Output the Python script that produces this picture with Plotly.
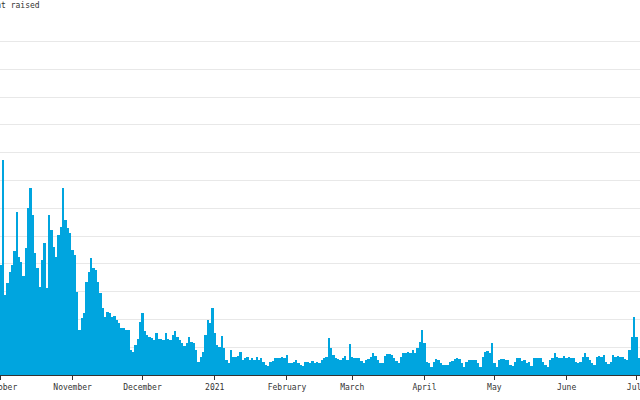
import pandas as pd
import plotly.graph_objects as go

# Daily amount raised (thousands of dollars)
oct_2020 = [39.6, 77.3, 28.8, 33.1, 37.0, 39.6, 44.6, 58.6, 42.4, 40.6, 35.6, 45.7, 60.1, 67.3, 57.6,
            43.9, 38.5, 31.7, 41.4, 47.5, 31.3, 57.6, 52.2, 46.0, 42.4, 50.4, 53.2, 67.3, 55.8, 52.9, 51.1]
nov_2020 = [45.0, 43.2, 29.9, 16.2, 20.5, 22.3, 33.5, 37.0, 42.1, 38.5, 37.8, 33.5, 29.5, 24.1, 20.9,
            22.7, 22.3, 20.9, 21.2, 19.8, 18.7, 16.9, 16.9, 16.2, 16.2, 9.0, 8.3, 10.8, 12.9, 19.1]
dec_2020 = [22.3, 15.8, 14.4, 13.7, 13.3, 12.6, 15.1, 12.9, 12.9, 12.6, 15.1, 12.9, 12.6, 14.4, 15.8,
            13.7, 12.6, 11.5, 10.4, 11.5, 13.7, 11.9, 11.5, 9.0, 4.7, 6.5, 8.3, 14.4, 19.8, 18.7, 24.1]
jan_2021 = [15.1, 10.8, 10.1, 14.0, 9.7, 5.4, 4.3, 9.0, 6.5, 6.5, 6.8, 8.3, 5.4, 6.1, 6.5,
            5.4, 6.1, 5.4, 6.5, 5.4, 6.1, 4.7, 3.6, 3.2, 4.7, 5.0, 6.1, 6.1, 6.1, 6.5, 6.1]
feb_2021 = [7.2, 4.3, 4.3, 4.7, 5.4, 4.3, 3.6, 3.2, 4.7, 4.7, 4.3, 5.0, 4.3, 4.7,
            4.3, 5.4, 6.1, 6.5, 13.3, 9.7, 7.2, 6.1, 5.8, 5.4, 6.1, 6.8, 5.4, 11.2]
mar_2021 = [6.5, 6.1, 6.1, 6.1, 5.0, 4.3, 5.4, 5.8, 6.5, 7.9, 6.8, 5.4, 4.3, 4.3, 6.8,
            7.6, 7.6, 7.2, 6.1, 5.0, 4.3, 6.5, 7.9, 7.9, 8.3, 7.9, 9.0, 7.9, 9.7, 11.9, 16.2]
apr_2021 = [11.5, 4.7, 4.3, 2.9, 4.7, 5.8, 5.4, 4.3, 3.6, 3.6, 3.6, 4.7, 5.0, 5.8, 6.1,
            5.8, 4.3, 2.9, 4.7, 5.4, 5.4, 5.4, 5.4, 4.3, 2.9, 6.5, 8.3, 8.6, 7.9, 11.5]
may_2021 = [4.3, 2.9, 5.4, 5.8, 5.8, 5.4, 5.4, 3.6, 3.2, 4.7, 6.1, 6.1, 5.0, 5.4, 4.3,
            4.7, 3.2, 6.1, 6.1, 6.1, 6.1, 4.7, 3.6, 2.9, 5.4, 6.1, 7.9, 6.5, 6.1, 6.1, 6.8]
jun_2021 = [6.1, 6.5, 6.1, 6.1, 4.7, 4.3, 4.7, 6.5, 7.9, 6.5, 5.4, 4.3, 3.6, 6.5, 6.8,
            6.5, 7.2, 4.7, 4.0, 4.7, 7.2, 6.5, 6.8, 6.5, 6.5, 5.8, 5.4, 9.0, 13.7, 20.9]
jul_2021 = [13.7, 6.1, 4.3]

tick_dates = ["2020-10-01", "2020-11-01", "2020-12-01", "2021-01-01", "2021-02-01",
              "2021-03-01", "2021-04-01", "2021-05-01", "2021-06-01", "2021-07-01"]
tick_labels = ["October", "November", "December", "2021", "February",
               "March", "April", "May", "June", "July"]

amounts = (oct_2020 + nov_2020 + dec_2020 + jan_2021 + feb_2021 + mar_2021
           + apr_2021 + may_2021 + jun_2021 + jul_2021)
dates = pd.date_range("2020-10-01", periods=len(amounts), freq="D")

fig = go.Figure(go.Bar(
    x=dates, y=amounts,
    width=86400000,
    marker=dict(color="#00a5df", line=dict(width=0)),
))

mono = "DejaVu Sans Mono"
fig.update_layout(
    width=640, height=400,
    margin=dict(l=0, r=0, t=20, b=25),
    paper_bgcolor="white", plot_bgcolor="white",
    bargap=0, showlegend=False,
    font=dict(family=mono, size=8, color="#333"),
    annotations=[dict(
        text="Amount raised", xref="paper", yref="paper", x=0, y=1,
        xanchor="left", yanchor="middle", xshift=-25.5, yshift=14.5,
        showarrow=False, font=dict(family=mono, size=8, color="#333"),
    )],
)
fig.update_xaxes(
    type="date", range=["2020-09-30 20:24", "2021-07-02 12:14"],
    tickvals=tick_dates, ticktext=tick_labels,
    ticks="outside", ticklen=4, tickcolor="#333", tickwidth=1,
    showline=True, linecolor="#333", linewidth=1,
    showgrid=False, automargin=False, ticklabeloverflow="allow",
    tickfont=dict(family=mono, size=8, color="#333"),
)
fig.update_yaxes(
    range=[0, 127.7], dtick=10, showgrid=True, gridcolor="#e8e8e8", gridwidth=1,
    zeroline=False, showline=False, automargin=False, ticks="",
    tickfont=dict(family=mono, size=8, color="#333"),
)

fig.write_html("out.html", config={"displayModeBar": False},
               post_script="document.body.style.margin='0';")
